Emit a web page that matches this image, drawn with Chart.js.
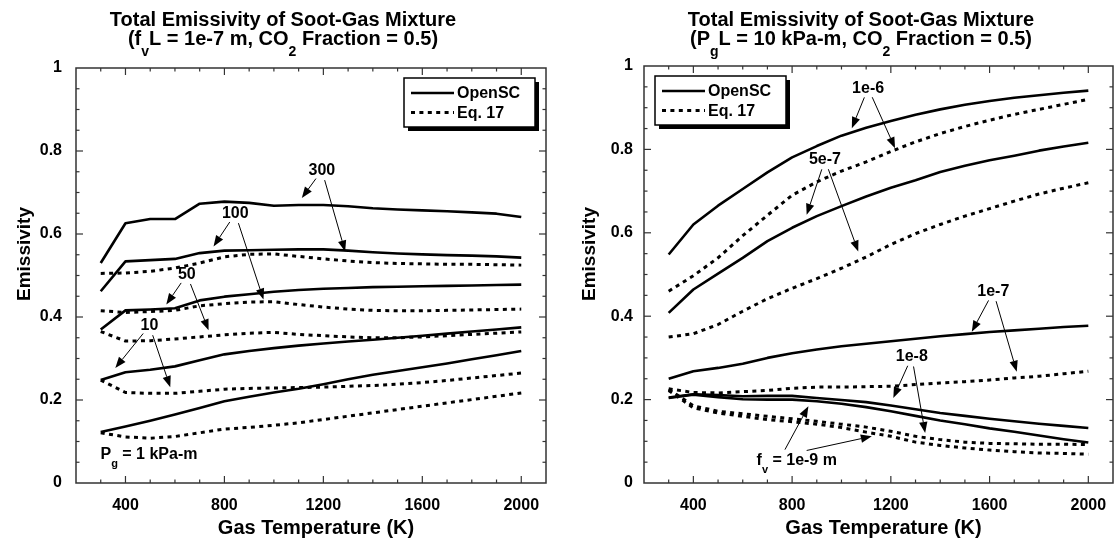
<!DOCTYPE html>
<html>
<head>
<meta charset="utf-8">
<title>Total Emissivity of Soot-Gas Mixture</title>
<script src="https://cdn.jsdelivr.net/npm/chart.js@4"></script>
<style>
  html, body { margin: 0; padding: 0; background: #fff; }
  #wrap { position: relative; width: 1115px; height: 544px; overflow: hidden; }
  .panel { position: absolute; top: 0; }
  #panel-left { left: 0; }
  #panel-right { left: 557px; }
</style>
</head>
<body>
<div id="wrap">
  <div class="panel" id="panel-left"><canvas id="chart-left" width="557" height="544"></canvas></div>
  <div class="panel" id="panel-right"><canvas id="chart-right" width="558" height="544"></canvas></div>
</div>
<script>
// gas temperature (K) shared by every curve
const temps = [300, 400, 500, 600, 700, 800, 900, 1000, 1100, 1200, 1300, 1400, 1500, 1600, 1700, 1800, 1900, 2000]

const xTicks = [400, 800, 1200, 1600, 2000]
const yTicks = [0, 0.2, 0.4, 0.6, 0.8, 1]
const yTickLabels = ['0', '0.2', '0.4', '0.6', '0.8', '1']
const legendLabels = ['OpenSC', 'Eq. 17']

// left panel: f_v L = 1e-7 m, P_g L in kPa-m
const pgLabels = ['300', '100', '50', '10', '1']
const openPg300 = [0.530, 0.626, 0.636, 0.636, 0.673, 0.678, 0.675, 0.668, 0.670, 0.670, 0.667, 0.662, 0.659, 0.657, 0.655, 0.652, 0.649, 0.641]
const eqPg300 = [0.505, 0.506, 0.510, 0.518, 0.530, 0.545, 0.551, 0.552, 0.546, 0.540, 0.535, 0.531, 0.529, 0.528, 0.527, 0.527, 0.526, 0.525]
const openPg100 = [0.462, 0.534, 0.537, 0.540, 0.554, 0.560, 0.561, 0.562, 0.563, 0.563, 0.560, 0.556, 0.553, 0.551, 0.549, 0.548, 0.546, 0.543]
const eqPg100 = [0.415, 0.411, 0.413, 0.416, 0.427, 0.432, 0.436, 0.437, 0.430, 0.424, 0.419, 0.416, 0.415, 0.415, 0.416, 0.417, 0.418, 0.419]
const openPg50 = [0.370, 0.416, 0.418, 0.421, 0.440, 0.449, 0.455, 0.461, 0.465, 0.468, 0.470, 0.472, 0.473, 0.474, 0.475, 0.476, 0.477, 0.478]
const eqPg50 = [0.365, 0.342, 0.343, 0.347, 0.352, 0.357, 0.361, 0.363, 0.358, 0.355, 0.352, 0.350, 0.350, 0.352, 0.355, 0.358, 0.361, 0.364]
const openPg10 = [0.248, 0.267, 0.273, 0.281, 0.296, 0.310, 0.318, 0.325, 0.331, 0.336, 0.341, 0.345, 0.350, 0.355, 0.360, 0.365, 0.370, 0.375]
const eqPg10 = [0.248, 0.218, 0.216, 0.216, 0.221, 0.226, 0.228, 0.229, 0.230, 0.231, 0.233, 0.235, 0.238, 0.242, 0.247, 0.253, 0.259, 0.265]
const openPg1 = [0.123, 0.136, 0.150, 0.165, 0.181, 0.197, 0.208, 0.218, 0.227, 0.238, 0.250, 0.261, 0.270, 0.279, 0.288, 0.298, 0.308, 0.318]
const eqPg1 = [0.121, 0.111, 0.108, 0.112, 0.121, 0.130, 0.134, 0.139, 0.145, 0.153, 0.161, 0.169, 0.177, 0.185, 0.193, 0.201, 0.209, 0.217]

// right panel: P_g L = 10 kPa-m, f_v in m
const fvLabels = ['1e-6', '5e-7', '1e-7', '1e-8', '1e-9']
const openFv1e6 = [0.548, 0.620, 0.665, 0.705, 0.745, 0.781, 0.808, 0.833, 0.852, 0.868, 0.883, 0.896, 0.907, 0.916, 0.924, 0.930, 0.936, 0.941]
const eqFv1e6 = [0.460, 0.497, 0.540, 0.593, 0.642, 0.690, 0.722, 0.748, 0.770, 0.795, 0.818, 0.838, 0.855, 0.870, 0.884, 0.896, 0.908, 0.920]
const openFv5e7 = [0.408, 0.464, 0.502, 0.540, 0.580, 0.612, 0.640, 0.664, 0.687, 0.708, 0.726, 0.746, 0.761, 0.774, 0.785, 0.797, 0.807, 0.816]
const eqFv5e7 = [0.350, 0.358, 0.380, 0.412, 0.442, 0.467, 0.490, 0.515, 0.542, 0.572, 0.598, 0.620, 0.640, 0.658, 0.676, 0.693, 0.707, 0.720]
const openFv1e7 = [0.250, 0.268, 0.276, 0.286, 0.300, 0.311, 0.320, 0.328, 0.334, 0.340, 0.346, 0.352, 0.357, 0.362, 0.366, 0.370, 0.374, 0.377]
const eqFv1e7 = [0.226, 0.217, 0.216, 0.219, 0.222, 0.227, 0.230, 0.230, 0.231, 0.232, 0.236, 0.240, 0.243, 0.247, 0.252, 0.256, 0.262, 0.268]
const openFv1e8 = [0.205, 0.213, 0.211, 0.208, 0.209, 0.209, 0.204, 0.199, 0.194, 0.186, 0.177, 0.168, 0.161, 0.154, 0.148, 0.142, 0.137, 0.132]
const eqFv1e8 = [0.225, 0.185, 0.172, 0.166, 0.160, 0.154, 0.148, 0.141, 0.134, 0.124, 0.112, 0.104, 0.098, 0.095, 0.094, 0.093, 0.093, 0.092]
const openFv1e9 = [0.204, 0.212, 0.206, 0.201, 0.200, 0.200, 0.196, 0.190, 0.182, 0.172, 0.161, 0.150, 0.141, 0.131, 0.123, 0.114, 0.105, 0.097]
const eqFv1e9 = [0.222, 0.180, 0.168, 0.160, 0.152, 0.147, 0.141, 0.133, 0.122, 0.112, 0.098, 0.090, 0.084, 0.079, 0.075, 0.072, 0.071, 0.069]

const FAMILY = '"Liberation Sans", Arial, Helvetica, sans-serif'
const font = (size) => `bold ${size}px ${FAMILY}`
const DOTS = [4, 4.4]
const AXIS_COLOR = '#333'

function series(label, values, dotted) {
    return {
        label: label,
        data: temps.map((t, i) => ({ x: t, y: values[i] })),
        borderColor: '#000',
        borderWidth: dotted ? 3 : 2.6,
        borderDash: dotted ? DOTS : [],
        borderCapStyle: 'butt',
        borderJoinStyle: 'round',
        pointRadius: 0,
        tension: 0,
        fill: false
    }
}

// draws a run of text where [str] pieces are set as subscripts
function richText(ctx, parts, x, y, size, align) {
    const subSize = Math.round(size * 0.7)
    const widths = parts.map(p => {
        ctx.font = font(Array.isArray(p) ? subSize : size)
        return ctx.measureText(Array.isArray(p) ? p[0] : p).width
    })
    const total = widths.reduce((a, b) => a + b, 0)
    let cx = align === 'center' ? x - total / 2 : x
    ctx.textAlign = 'left'
    ctx.textBaseline = 'alphabetic'
    parts.forEach((p, i) => {
        const sub = Array.isArray(p)
        ctx.font = font(sub ? subSize : size)
        ctx.fillText(sub ? p[0] : p, cx, sub ? y + size * 0.55 : y)
        cx += widths[i]
    })
}

function drawArrow(ctx, x0, y0, x1, y1) {
    const a = Math.atan2(y1 - y0, x1 - x0)
    const head = 11, half = 4.2
    const bx = x1 - head * Math.cos(a)
    const by = y1 - head * Math.sin(a)
    ctx.beginPath()
    ctx.moveTo(x0, y0)
    ctx.lineTo(bx, by)
    ctx.stroke()
    ctx.beginPath()
    ctx.moveTo(x1, y1)
    ctx.lineTo(bx + half * Math.sin(a), by - half * Math.cos(a))
    ctx.lineTo(bx - half * Math.sin(a), by + half * Math.cos(a))
    ctx.closePath()
    ctx.fill()
}

function line(ctx, x0, y0, x1, y1) {
    ctx.beginPath()
    ctx.moveTo(x0, y0)
    ctx.lineTo(x1, y1)
    ctx.stroke()
}

// frame, inward ticks, legend box, arrows and all titles
const decorations = {
    id: 'decorations',
    afterDraw(chart, args, opts) {
        const { ctx, chartArea: { left, right, top, bottom }, scales: { x, y } } = chart
        ctx.save()

        ctx.strokeStyle = AXIS_COLOR
        ctx.lineWidth = 1.5
        ctx.strokeRect(left, top, right - left, bottom - top)

        ctx.lineWidth = 1.2
        for (let t = 300; t < x.max; t += 100) {
            const px = x.getPixelForValue(t)
            const len = xTicks.includes(t) ? 7 : 3.5
            line(ctx, px, bottom, px, bottom - len)
            line(ctx, px, top, px, top + len)
        }
        for (let k = 1; k < 20; k++) {
            const py = y.getPixelForValue(k * 0.05)
            const len = k % 4 === 0 ? 7 : 3.5
            line(ctx, left, py, left + len, py)
            line(ctx, right, py, right - len, py)
        }

        // legend
        const w = 131, h = 49
        const bx = opts.legendSide === 'right' ? right - 11 - w : left + 11
        const by = top + 10
        ctx.fillStyle = '#000'
        ctx.fillRect(bx + 4, by + 4, w, h)
        ctx.fillStyle = '#fff'
        ctx.fillRect(bx, by, w, h)
        ctx.strokeStyle = '#000'
        ctx.lineWidth = 1.5
        ctx.strokeRect(bx, by, w, h)
        legendLabels.forEach((label, i) => {
            const ly = by + 15 + i * 19.5
            ctx.setLineDash(i ? DOTS : [])
            ctx.lineWidth = i ? 3 : 2.6
            line(ctx, bx + 7, ly, bx + 50, ly)
            ctx.setLineDash([])
            ctx.fillStyle = '#000'
            ctx.font = font(16)
            ctx.textAlign = 'left'
            ctx.textBaseline = 'middle'
            ctx.fillText(label, bx + 53, ly + 1)
        })

        // curve labels with arrows
        ctx.fillStyle = '#000'
        ctx.strokeStyle = '#000'
        ctx.lineWidth = 1
        opts.notes.forEach(note => {
            const cx = x.getPixelForValue(note.at[0])
            const cy = y.getPixelForValue(note.at[1])
            if (note.parts) {
                richText(ctx, note.parts, cx, cy, 16, 'left')
            } else {
                ctx.font = font(16)
                ctx.textAlign = 'center'
                ctx.textBaseline = 'middle'
                ctx.fillText(note.text, cx, cy)
            }
            note.tips.forEach(([tx, ty], i) => {
                const px = x.getPixelForValue(tx)
                const py = y.getPixelForValue(ty)
                let sx, sy
                if (note.from) {
                    sx = x.getPixelForValue(note.from[i][0])
                    sy = y.getPixelForValue(note.from[i][1])
                } else {
                    const d = Math.hypot(px - cx, py - cy)
                    sx = cx + (px - cx) / d * 10
                    sy = cy + (py - cy) / d * 10
                }
                drawArrow(ctx, sx, sy, px, py)
            })
        });

        // plain text blocks inside the plot
        (opts.texts || []).forEach(t => {
            richText(ctx, t.parts, x.getPixelForValue(t.at[0]), y.getPixelForValue(t.at[1]), 16, 'left')
        });

        // titles
        ctx.fillStyle = '#000'
        richText(ctx, ['Total Emissivity of Soot-Gas Mixture'], opts.titleX, 26, 20, 'center')
        richText(ctx, opts.subtitle, opts.titleX, 45, 20, 'center')
        richText(ctx, ['Gas Temperature (K)'], (left + right) / 2 + 5, 534, 20, 'center')

        ctx.save()
        ctx.translate(opts.yTitleX, 254)
        ctx.rotate(-Math.PI / 2)
        ctx.font = font(19)
        ctx.textAlign = 'center'
        ctx.textBaseline = 'middle'
        ctx.fillText('Emissivity', 0, 0)
        ctx.restore()

        ctx.restore()
    }
}

function makeChart(canvasId, datasets, layout, deco) {
    const ctx = document.getElementById(canvasId).getContext('2d')
    return new Chart(ctx, {
        type: 'line',
        data: { datasets: datasets },
        plugins: [decorations],
        options: {
            responsive: false,
            animation: false,
            layout: { padding: layout.padding },
            plugins: {
                legend: { display: false },
                tooltip: { enabled: false },
                decorations: deco
            },
            scales: {
                x: {
                    type: 'linear',
                    min: 200,
                    max: 2100,
                    afterBuildTicks: (scale) => { scale.ticks = xTicks.map(v => ({ value: v })) },
                    afterFit: (scale) => { scale.height = 61 },
                    grid: { display: false },
                    border: { display: false },
                    ticks: {
                        color: '#000',
                        font: { family: FAMILY, weight: 'bold', size: 16 },
                        padding: 5,
                        maxRotation: 0,
                        autoSkip: false,
                        callback: (value) => String(value)
                    }
                },
                y: {
                    min: 0,
                    max: 1,
                    afterBuildTicks: (scale) => { scale.ticks = yTicks.map(v => ({ value: v })) },
                    afterFit: (scale) => { scale.width = layout.yWidth },
                    grid: { display: false },
                    border: { display: false },
                    ticks: {
                        color: '#000',
                        font: { family: FAMILY, weight: 'bold', size: 16 },
                        padding: layout.yPad,
                        autoSkip: false,
                        callback: (value, index) => yTickLabels[index]
                    }
                }
            }
        }
    })
}

const leftSets = [
    series(pgLabels[0], openPg300, false), series(pgLabels[0], eqPg300, true),
    series(pgLabels[1], openPg100, false), series(pgLabels[1], eqPg100, true),
    series(pgLabels[2], openPg50, false), series(pgLabels[2], eqPg50, true),
    series(pgLabels[3], openPg10, false), series(pgLabels[3], eqPg10, true),
    series(pgLabels[4], openPg1, false), series(pgLabels[4], eqPg1, true)
]

const rightSets = [
    series(fvLabels[0], openFv1e6, false), series(fvLabels[0], eqFv1e6, true),
    series(fvLabels[1], openFv5e7, false), series(fvLabels[1], eqFv5e7, true),
    series(fvLabels[2], openFv1e7, false), series(fvLabels[2], eqFv1e7, true),
    series(fvLabels[3], openFv1e8, false), series(fvLabels[3], eqFv1e8, true),
    series(fvLabels[4], openFv1e9, false), series(fvLabels[4], eqFv1e9, true)
]

makeChart('chart-left', leftSets,
    { padding: { left: 0, top: 68, right: 11, bottom: 0 }, yWidth: 76, yPad: 6 },
    {
        legendSide: 'right',
        titleX: 283,
        yTitleX: 25,
        subtitle: ['(f', ['v'], 'L = 1e-7 m, CO', ['2'], ' Fraction = 0.5)'],
        notes: [
            { text: pgLabels[0], at: [1194, 0.753], tips: [[1113, 0.687], [1288, 0.558]] },
            { text: pgLabels[1], at: [844, 0.649], tips: [[756, 0.570], [958, 0.442]] },
            { text: pgLabels[2], at: [648, 0.502], tips: [[565, 0.430], [736, 0.368]] },
            { text: pgLabels[3], at: [497, 0.379], tips: [[359, 0.277], [581, 0.231]] }
        ],
        texts: [
            { parts: ['P', ['g'], ' = 1 kPa-m'], at: [299, 0.059] }
        ]
    })

makeChart('chart-right', rightSets,
    { padding: { left: 0, top: 66, right: 2, bottom: 0 }, yWidth: 87, yPad: 3 },
    {
        legendSide: 'left',
        titleX: 304,
        yTitleX: 33,
        subtitle: ['(P', ['g'], 'L = 10 kPa-m, CO', ['2'], ' Fraction = 0.5)'],
        notes: [
            { text: fvLabels[0], at: [1108, 0.947], tips: [[1042, 0.851], [1217, 0.803]] },
            { text: fvLabels[1], at: [933, 0.775], tips: [[859, 0.643], [1068, 0.555]] },
            { text: fvLabels[2], at: [1615, 0.459], tips: [[1528, 0.363], [1710, 0.267]] },
            { text: fvLabels[3], at: [1285, 0.303], tips: [[1210, 0.204], [1339, 0.120]] },
            {
                parts: ['f', ['v'], ' = 1e-9 m'],
                at: [656, 0.044],
                tips: [[866, 0.184], [1123, 0.112]],
                from: [[771, 0.080], [859, 0.078]]
            }
        ]
    })
</script>
</body>
</html>
